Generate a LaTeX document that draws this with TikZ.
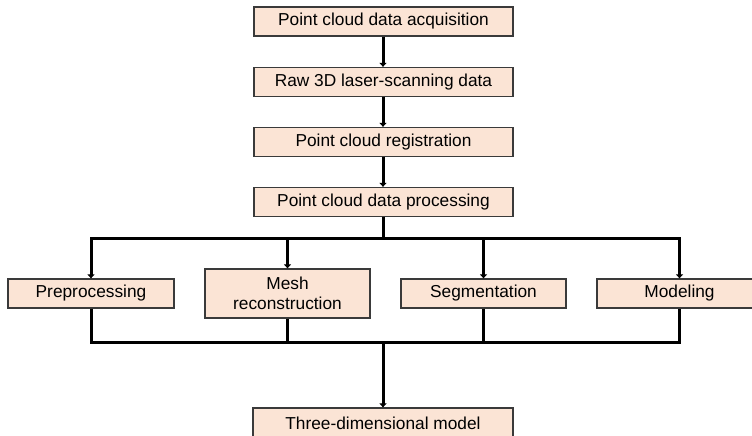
\documentclass[tikz,border=0pt]{standalone}
\usepackage{fontspec}
\setmainfont{Liberation Sans}
\usetikzlibrary{arrows.meta}
\definecolor{boxfill}{HTML}{FBE4D5}
\definecolor{boxline}{HTML}{3A3A3A}
\begin{document}
\begin{tikzpicture}[x=1pt,y=-1pt,
  stepbox/.style={draw=boxline,line width=1.3pt,fill=boxfill,inner sep=0pt,
    minimum height=29pt,font=\fontsize{17.3}{19.5}\selectfont,align=center},
  conn/.style={line width=3pt,black},
  arr/.style={conn,-{Triangle[length=4pt,width=7pt]}}]
\useasboundingbox (0,0) rectangle (752,436);
\clip (0,0) rectangle (752,436);

% main chain
\node[stepbox,minimum width=259pt] (acq) at (383.5,21.5) {Point cloud data acquisition};
\node[stepbox,minimum width=259pt] (raw) at (383.5,82) {Raw 3D laser-scanning data};
\node[stepbox,minimum width=259pt] (reg) at (383.5,142) {Point cloud registration};
\node[stepbox,minimum width=259pt] (proc) at (383.5,202) {Point cloud data processing};

% processing branches
\node[stepbox,minimum width=166pt] (pre) at (91,293.5) {Preprocessing};
\node[stepbox,minimum width=165pt,minimum height=49pt] (mesh) at (287.5,293.5) {Mesh\\reconstruction};
\node[stepbox,minimum width=165pt] (seg) at (483.5,293.5) {Segmentation};
\node[stepbox,minimum width=165pt] (modl) at (679.5,293.5) {Modeling};

% result
\node[stepbox,minimum width=260pt,minimum height=30pt] (final) at (383,423) {Three-dimensional model};

\coordinate (busT) at (383,238);
\coordinate (busB) at (383,342);

\draw[arr] (acq.south -| busT) -- (raw.north -| busT);
\draw[arr] (raw.south -| busT) -- (reg.north -| busT);
\draw[arr] (reg.south -| busT) -- (proc.north -| busT);

\draw[arr] (proc.south -| busT) -- (busT) -| (pre.north);
\draw[arr] (busT) -| (modl.north);
\draw[arr] (mesh.north |- busT) -- (mesh.north);
\draw[arr] (seg.north |- busT) -- (seg.north);

\draw[conn] (pre.south) |- (busB) -| (modl.south);
\draw[conn] (mesh.south) -- (mesh.south |- busB);
\draw[conn] (seg.south) -- (seg.south |- busB);
\draw[arr] (busB) -- (final.north -| busB);
\end{tikzpicture}
\end{document}
